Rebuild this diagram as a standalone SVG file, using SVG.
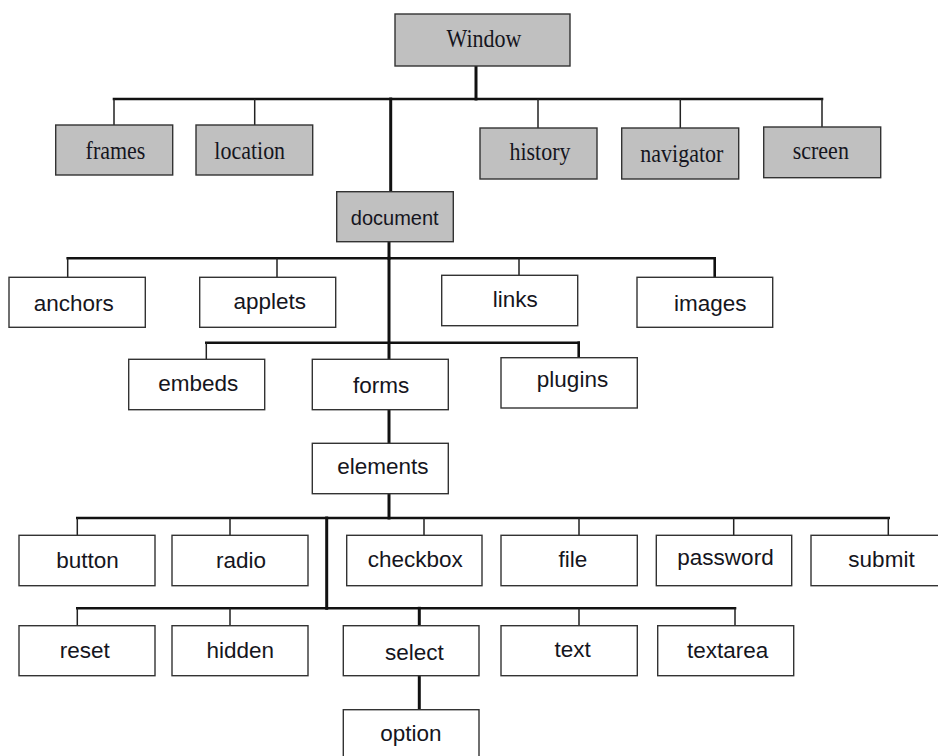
<svg xmlns="http://www.w3.org/2000/svg" width="938" height="756" viewBox="0 0 938 756">
  <style>
    .box { stroke: #333; stroke-width: 1.4; }
    .obj { fill: #c0c0c0; }
    .sub { fill: #ffffff; }
    .serif { font-family: "Liberation Serif", "Times New Roman", serif; font-size: 22px; fill: #151520; text-anchor: middle; }
    .sans { font-family: "Liberation Sans", Arial, sans-serif; font-size: 22.5px; fill: #151520; text-anchor: middle; }
    .sans.small { font-size: 20px; }
    .trunk { stroke: #111; stroke-width: 3; fill: none; stroke-linecap: square; }
    .bar { stroke: #111; stroke-width: 2.6; fill: none; stroke-linecap: square; }
    .twig { stroke: #222; stroke-width: 1.5; fill: none; }
  </style>
  <rect width="938" height="756" fill="#ffffff"/>

  <!-- connectors -->
  <g id="connectors">
    <path class="trunk" d="M476,66 V99"/>
    <path class="bar" d="M114,99 H822"/>
    <path class="twig" d="M114,99 V125 M254.7,99 V125 M538,99 V128 M680.3,99 V128 M822,99 V127"/>
    <path class="trunk" d="M390.7,99 V191.7"/>
    <path class="trunk" d="M389,241.7 V258.3"/>
    <path class="bar" d="M67.7,258.3 H714.7"/>
    <path class="twig" d="M67.7,258.3 V277.3 M277,258.3 V277.3 M519,258.3 V275.3"/>
    <path class="bar" d="M714.7,258.3 V277.3"/>
    <path class="trunk" d="M389,258.3 V359.3"/>
    <path class="bar" d="M206.3,342.7 H578.7"/>
    <path class="twig" d="M206.3,342.7 V359.3"/>
    <path class="bar" d="M578.7,342.7 V357.7"/>
    <path class="trunk" d="M389,409.7 V443.3"/>
    <path class="trunk" d="M389,493.7 V518"/>
    <path class="bar" d="M77.3,518 H888.7"/>
    <path class="twig" d="M77.3,518 V535.3 M230,518 V535.3 M424,518 V535.3 M579,518 V535.3 M733.7,518 V535.3 M888.3,518 V535.3"/>
    <path class="trunk" d="M326.7,518 V608.3"/>
    <path class="bar" d="M77.3,608.3 H735"/>
    <path class="twig" d="M77.3,608.3 V625.7 M230,608.3 V625.7 M579,608.3 V625.7 M735,608.3 V625.7"/>
    <path class="trunk" d="M419.3,608.3 V625.7"/>
    <path class="trunk" d="M419.3,675.7 V709.7"/>
  </g>

  <!-- window object tree -->
  <g id="window">
    <rect class="box obj" x="395" y="14" width="175" height="52"/>
    <text class="serif" transform="translate(484,47.3) scale(1,1.12)">Window</text>
  </g>
  <g id="frames">
    <rect class="box obj" x="55.7" y="125" width="117" height="50"/>
    <text class="serif" transform="translate(115.5,159.3) scale(1,1.12)">frames</text>
  </g>
  <g id="location">
    <rect class="box obj" x="196" y="125" width="116.7" height="50"/>
    <text class="serif" transform="translate(249.7,159.3) scale(1,1.12)">location</text>
  </g>
  <g id="history">
    <rect class="box obj" x="480" y="128" width="117" height="51"/>
    <text class="serif" transform="translate(540,160.3) scale(1,1.12)">history</text>
  </g>
  <g id="navigator">
    <rect class="box obj" x="621.7" y="128" width="117" height="51"/>
    <text class="serif" transform="translate(681.8,162.3) scale(1,1.12)">navigator</text>
  </g>
  <g id="screen">
    <rect class="box obj" x="763.7" y="127" width="117" height="50.7"/>
    <text class="serif" transform="translate(820.8,159) scale(1,1.12)">screen</text>
  </g>
  <g id="document">
    <rect class="box obj" x="336.7" y="191.7" width="116.6" height="50"/>
    <text class="sans small" x="394.7" y="225.3">document</text>
  </g>

  <!-- document children -->
  <g id="anchors">
    <rect class="box sub" x="9" y="277.3" width="136.3" height="50"/>
    <text class="sans" x="73.8" y="311">anchors</text>
  </g>
  <g id="applets">
    <rect class="box sub" x="199.7" y="277.3" width="136" height="50"/>
    <text class="sans" x="269.7" y="309.3">applets</text>
  </g>
  <g id="links">
    <rect class="box sub" x="441.7" y="275.3" width="136" height="50.4"/>
    <text class="sans" x="515.2" y="307.3">links</text>
  </g>
  <g id="images">
    <rect class="box sub" x="637" y="277.3" width="135.7" height="50"/>
    <text class="sans" x="710.2" y="310.7">images</text>
  </g>
  <g id="embeds">
    <rect class="box sub" x="128.7" y="359.3" width="136" height="50.4"/>
    <text class="sans" x="198.3" y="391">embeds</text>
  </g>
  <g id="forms">
    <rect class="box sub" x="312.3" y="359.3" width="136" height="50.4"/>
    <text class="sans" x="381.2" y="393.3">forms</text>
  </g>
  <g id="plugins">
    <rect class="box sub" x="501" y="357.7" width="136.3" height="50.3"/>
    <text class="sans" x="572.5" y="387.3">plugins</text>
  </g>
  <g id="elements">
    <rect class="box sub" x="312.3" y="443.3" width="136" height="50.4"/>
    <text class="sans" x="382.8" y="474.3">elements</text>
  </g>

  <!-- form elements -->
  <g id="button">
    <rect class="box sub" x="19" y="535.3" width="136" height="50.4"/>
    <text class="sans" x="87.5" y="568.3">button</text>
  </g>
  <g id="radio">
    <rect class="box sub" x="172" y="535.3" width="136" height="50.4"/>
    <text class="sans" x="241" y="568.3">radio</text>
  </g>
  <g id="checkbox">
    <rect class="box sub" x="346.7" y="535.3" width="135.3" height="50.4"/>
    <text class="sans" x="415.3" y="567.3">checkbox</text>
  </g>
  <g id="file">
    <rect class="box sub" x="501" y="535.3" width="136.3" height="50.4"/>
    <text class="sans" x="572.8" y="566.7">file</text>
  </g>
  <g id="password">
    <rect class="box sub" x="656.3" y="535.3" width="135.4" height="50.4"/>
    <text class="sans" x="725.5" y="565">password</text>
  </g>
  <g id="submit">
    <rect class="box sub" x="811" y="535.3" width="136" height="50.4"/>
    <text class="sans" x="881.5" y="567.3">submit</text>
  </g>
  <g id="reset">
    <rect class="box sub" x="19" y="625.7" width="136" height="50"/>
    <text class="sans" x="84.8" y="658.3">reset</text>
  </g>
  <g id="hidden">
    <rect class="box sub" x="172" y="625.7" width="136" height="50"/>
    <text class="sans" x="240.3" y="658.3">hidden</text>
  </g>
  <g id="select">
    <rect class="box sub" x="343.3" y="625.7" width="135.7" height="50"/>
    <text class="sans" x="414.3" y="660">select</text>
  </g>
  <g id="text">
    <rect class="box sub" x="501" y="625.7" width="136.3" height="50"/>
    <text class="sans" x="572.7" y="656.7">text</text>
  </g>
  <g id="textarea">
    <rect class="box sub" x="657.7" y="625.7" width="136" height="50"/>
    <text class="sans" x="727.7" y="658.3">textarea</text>
  </g>
  <g id="option">
    <rect class="box sub" x="343.3" y="709.7" width="135.7" height="52"/>
    <text class="sans" x="410.8" y="740.7">option</text>
  </g>
</svg>
